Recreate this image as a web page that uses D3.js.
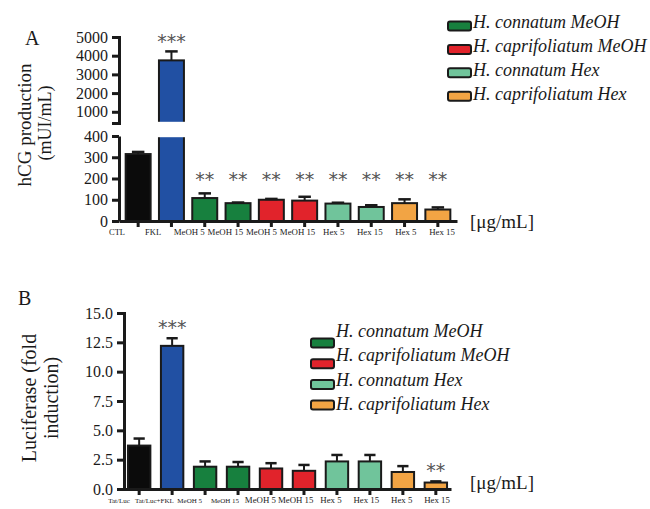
<!DOCTYPE html>
<html>
<head>
<meta charset="utf-8">
<script src="https://cdn.jsdelivr.net/npm/d3@7"></script>
<style>
  body { margin: 0; background: #fff; }
  svg { display: block; }
</style>
</head>
<body>
<svg id="chart" width="650" height="509"></svg>
<script>
// ====================================================================
// data
var labels_a = ["CTL", "FKL", "MeOH 5", "MeOH 15", "MeOH 5", "MeOH 15", "Hex 5", "Hex 15", "Hex 5", "Hex 15"];
var values_a = [315, 3750, 108, 84, 100, 96, 82, 66, 84, 54];
var errors_a = [10, 480, 22, 3, 4, 18, 4, 8, 18, 10];
var sig_a = ["", "***", "**", "**", "**", "**", "**", "**", "**", "**"];

var labels_b = ["Tat/Luc", "Tat/Luc+FKL", "MeOH 5", "MeOH 15", "MeOH 5", "MeOH 15", "Hex 5", "Hex 15", "Hex 5", "Hex 15"];
var values_b = [3.7, 12.2, 1.9, 1.9, 1.75, 1.55, 2.35, 2.35, 1.45, 0.55];
var errors_b = [0.6, 0.65, 0.45, 0.4, 0.45, 0.5, 0.55, 0.55, 0.5, 0.1];
var sig_b = ["", "***", "", "", "", "", "", "", "", "**"];

var groups = ["ctl", "fkl", "cm", "cm", "pm", "pm", "ch", "ch", "ph", "ph"];
var legend_keys = ["cm", "pm", "ch", "ph"];
var legend_names = ["H. connatum MeOH", "H. caprifoliatum MeOH", "H. connatum Hex", "H. caprifoliatum Hex"];

var ticks_a_low = [0, 100, 200, 300, 400];
var ticks_a_up = [1000, 2000, 3000, 4000, 5000];
var ticks_b = [0, 2.5, 5, 7.5, 10, 12.5, 15];
// ====================================================================

var str_serif = "'Liberation Serif', 'Times New Roman', serif";
var str_ink = "#1a1a1a";
var int_axis_w = 3;

var color = d3.scaleOrdinal()
  .domain(["ctl", "fkl", "cm", "pm", "ch", "ph"])
  .range(["#0b0b0b", "#2150a3", "#17803e", "#e1232b", "#70c49b", "#f2a444"]);

var svg = d3.select("#chart");

function style_axis(g, fs) {
  g.selectAll("path, line").attr("stroke", str_ink).attr("stroke-width", int_axis_w);
  g.selectAll("text")
    .style("font-family", str_serif)
    .style("font-size", fs + "px")
    .attr("fill", str_ink);
}

function draw_errors(g, x, data, fy) {
  var cap = x.bandwidth() * 0.5;
  var sel = g.selectAll(null).data(data).enter().append("g");
  sel.append("line")
    .attr("x1", function(d) { return x(d.i) + x.bandwidth() / 2; })
    .attr("x2", function(d) { return x(d.i) + x.bandwidth() / 2; })
    .attr("y1", function(d) { return fy(d.v); })
    .attr("y2", function(d) { return fy(d.v + d.e); })
    .attr("stroke", str_ink).attr("stroke-width", 2);
  sel.append("line")
    .attr("x1", function(d) { return x(d.i) + (x.bandwidth() - cap) / 2; })
    .attr("x2", function(d) { return x(d.i) + (x.bandwidth() + cap) / 2; })
    .attr("y1", function(d) { return fy(d.v + d.e); })
    .attr("y2", function(d) { return fy(d.v + d.e); })
    .attr("stroke", str_ink).attr("stroke-width", 2.5);
}

function draw_legend(g, rect_y, text_y, x0) {
  legend_keys.forEach(function(k, i) {
    g.append("rect")
      .attr("x", x0).attr("y", rect_y(i) - 4.5)
      .attr("width", 23).attr("height", 9)
      .attr("rx", 2).attr("ry", 2)
      .attr("fill", color(k))
      .attr("stroke", str_ink).attr("stroke-width", 2);
    g.append("text")
      .attr("x", x0 + 25).attr("y", text_y(i))
      .style("font-family", str_serif)
      .style("font-style", "italic")
      .style("font-size", "18px")
      .attr("fill", str_ink)
      .text(legend_names[i]);
  });
}

function draw_xlabels(g, pos, labels, y, fsize) {
  g.selectAll(null).data(labels).enter().append("text")
    .attr("x", function(d, i) { return pos(i); })
    .attr("y", y)
    .attr("text-anchor", "middle")
    .style("font-family", str_serif)
    .style("font-size", function(d, i) { return fsize(i) + "px"; })
    .attr("fill", str_ink)
    .text(function(d) { return d; });
}

function draw_stars(g, x, data, fy) {
  g.selectAll(null).data(data.filter(function(d) { return d.s; })).enter().append("text")
    .attr("x", function(d) { return x(d.i) + x.bandwidth() / 2; })
    .attr("y", function(d) { return fy(d) + 11; })
    .attr("text-anchor", "middle")
    .style("font-family", "'DejaVu Sans', sans-serif")
    .style("font-size", "19px")
    .attr("fill", "#555")
    .text(function(d) { return d.s; });
}

// ====================================================================
// Panel A
var data_a = values_a.map(function(v, i) { return {i: i, v: v, e: errors_a[i], g: groups[i], s: sig_a[i]}; });

var x_a = d3.scaleBand().domain(d3.range(labels_a.length)).range([119, 457])
  .paddingInner(0.25).paddingOuter(0.2);
var y_low = d3.scaleLinear().domain([0, 400]).range([221, 136]);
var y_up = d3.scaleLinear().domain([400, 5000]).range([123, 37]);

var g_a = svg.append("g").attr("id", "panel_a");

// bars: lower segment clamped to 400, upper segment only for values over 400
g_a.append("g").selectAll("rect").data(data_a).enter().append("rect")
  .attr("x", function(d) { return x_a(d.i); })
  .attr("y", function(d) { return y_low(Math.min(d.v, 400)); })
  .attr("width", x_a.bandwidth())
  .attr("height", function(d) { return y_low(0) - y_low(Math.min(d.v, 400)); })
  .attr("fill", function(d) { return color(d.g); })
  .attr("stroke", str_ink).attr("stroke-width", 2);

var data_a_big = data_a.filter(function(d) { return d.v > 400; });
g_a.append("g").selectAll("rect").data(data_a_big).enter().append("rect")
  .attr("x", function(d) { return x_a(d.i); })
  .attr("y", function(d) { return y_up(d.v); })
  .attr("width", x_a.bandwidth())
  .attr("height", function(d) { return y_up(400) - y_up(d.v); })
  .attr("fill", function(d) { return color(d.g); })
  .attr("stroke", str_ink).attr("stroke-width", 2);

// white break between the two segments
g_a.append("rect")
  .attr("x", x_a.range()[0] + 4).attr("y", y_up(400) - 1.2)
  .attr("width", x_a.range()[1] - x_a.range()[0])
  .attr("height", y_low(400) - y_up(400) + 2.4)
  .attr("fill", "#fff");

draw_errors(g_a.append("g"), x_a, data_a.filter(function(d) { return d.v <= 400; }), y_low);
draw_errors(g_a.append("g"), x_a, data_a_big, y_up);

var ax_low = g_a.append("g").attr("transform", "translate(" + x_a.range()[0] + ",0)")
  .call(d3.axisLeft(y_low).tickValues(ticks_a_low).tickSize(7).tickSizeOuter(0).tickPadding(4));
style_axis(ax_low, 16);
var ax_up = g_a.append("g").attr("transform", "translate(" + x_a.range()[0] + ",0)")
  .call(d3.axisLeft(y_up).tickValues(ticks_a_up).tickSize(7).tickSizeOuter(7).tickPadding(4)
    .tickFormat(d3.format("d")));
style_axis(ax_up, 16);

var ax_xa = g_a.append("g").attr("transform", "translate(0," + y_low(0) + ")")
  .call(d3.axisBottom(x_a).tickSize(6).tickSizeOuter(0).tickFormat(""));
style_axis(ax_xa, 9);

draw_stars(g_a, x_a, data_a, function(d) {
  return d.v > 400 ? y_up(d.v + d.e) - 14 : y_low(215);
});

var pos_a = d3.scalePoint().domain(d3.range(labels_a.length)).range([117, 442]);
draw_xlabels(g_a, pos_a, labels_a, 235, function(i) { return i < 2 ? 8.5 : 8.8; });

g_a.append("text").attr("x", 470).attr("y", 228)
  .style("font-family", str_serif).style("font-size", "19px").attr("fill", str_ink)
  .text("[μg/mL]");

g_a.append("text").attr("x", 25).attr("y", 45)
  .style("font-family", str_serif).style("font-size", "20px").attr("fill", str_ink)
  .text("A");

g_a.append("text").attr("transform", "translate(31,125) rotate(-90)")
  .attr("text-anchor", "middle")
  .style("font-family", str_serif).style("font-size", "19px").attr("fill", str_ink)
  .text("hCG production");
g_a.append("text").attr("transform", "translate(51,123) rotate(-90)")
  .attr("text-anchor", "middle")
  .style("font-family", str_serif).style("font-size", "18px").attr("fill", str_ink)
  .text("(mUI/mL)");

draw_legend(g_a.append("g"),
  function(i) { return 26 + i * 23.4; },
  function(i) { return 28 + i * 24; },
  448);

// ====================================================================
// Panel B
var data_b = values_b.map(function(v, i) { return {i: i, v: v, e: errors_b[i], g: groups[i], s: sig_b[i]}; });

var x_b = d3.scaleBand().domain(d3.range(labels_b.length)).range([124, 451])
  .paddingInner(0.32).paddingOuter(0.12);
var y_b = d3.scaleLinear().domain([0, 15]).range([489, 313]);

var g_b = svg.append("g").attr("id", "panel_b");

g_b.append("g").selectAll("rect").data(data_b).enter().append("rect")
  .attr("x", function(d) { return x_b(d.i); })
  .attr("y", function(d) { return y_b(d.v); })
  .attr("width", x_b.bandwidth())
  .attr("height", function(d) { return y_b(0) - y_b(d.v); })
  .attr("fill", function(d) { return color(d.g); })
  .attr("stroke", str_ink).attr("stroke-width", 2);

draw_errors(g_b.append("g"), x_b, data_b, y_b);

var ax_yb = g_b.append("g").attr("transform", "translate(" + x_b.range()[0] + ",0)")
  .call(d3.axisLeft(y_b).tickValues(ticks_b).tickSize(7).tickSizeOuter(7).tickPadding(4)
    .tickFormat(d3.format(".1f")));
style_axis(ax_yb, 16);

var ax_xb = g_b.append("g").attr("transform", "translate(0," + y_b(0) + ")")
  .call(d3.axisBottom(x_b).tickSize(6).tickSizeOuter(0).tickFormat(""));
style_axis(ax_xb, 9);

draw_stars(g_b, x_b, data_b, function(d) { return y_b(d.v + d.e) - 15; });

var pos_b = d3.scalePoint().domain(d3.range(labels_b.length)).range([119, 437]);
draw_xlabels(g_b, pos_b, labels_b, 503, function(i) { return i < 4 ? 7 : 8.8; });

g_b.append("text").attr("x", 470).attr("y", 489)
  .style("font-family", str_serif).style("font-size", "19px").attr("fill", str_ink)
  .text("[μg/mL]");

g_b.append("text").attr("x", 18).attr("y", 305)
  .style("font-family", str_serif).style("font-size", "20px").attr("fill", str_ink)
  .text("B");

g_b.append("text").attr("transform", "translate(36,398) rotate(-90)")
  .attr("text-anchor", "middle")
  .style("font-family", str_serif).style("font-size", "20px").attr("fill", str_ink)
  .text("Luciferase (fold");
g_b.append("text").attr("transform", "translate(58,398) rotate(-90)")
  .attr("text-anchor", "middle")
  .style("font-family", str_serif).style("font-size", "20px").attr("fill", str_ink)
  .text("induction)");

draw_legend(g_b.append("g"),
  function(i) { return 343 + i * 20.7; },
  function(i) { return 337 + i * 24.3; },
  311);
</script>
</body>
</html>
